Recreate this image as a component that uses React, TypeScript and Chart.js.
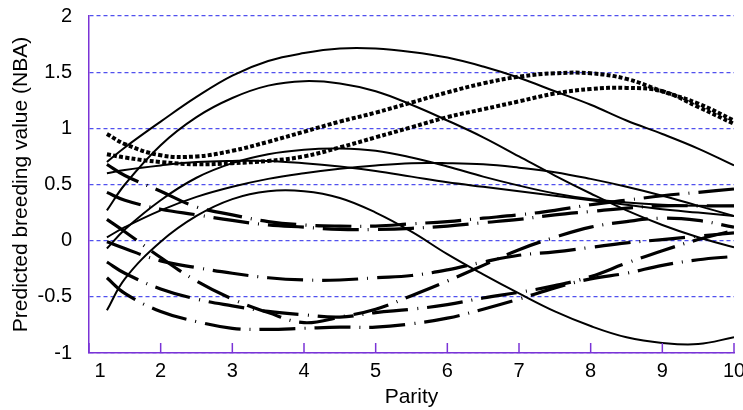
import React, { useEffect, useRef } from "react";
import { Chart, registerables } from "chart.js";

Chart.register(...registerables);

const parity = [1.25, 1.5, 2, 2.5, 3, 3.5, 4, 4.5, 5, 5.5, 6, 6.5, 7, 7.5, 8, 8.5, 9, 9.5, 10];

// solid curves
const solid1 = [0.70, 0.83, 1.06, 1.28, 1.47, 1.60, 1.67, 1.71, 1.71, 1.68, 1.63, 1.55, 1.45, 1.33, 1.21, 1.07, 0.95, 0.82, 0.67];
const solid2 = [0.27, 0.50, 0.85, 1.10, 1.27, 1.38, 1.42, 1.40, 1.33, 1.21, 1.07, 0.92, 0.75, 0.58, 0.42, 0.27, 0.14, 0.03, -0.06];
const solid3 = [0.60, 0.63, 0.67, 0.70, 0.71, 0.71, 0.69, 0.66, 0.62, 0.57, 0.52, 0.48, 0.44, 0.40, 0.36, 0.32, 0.28, 0.25, 0.22];
const solid4 = [-0.07, 0.10, 0.36, 0.56, 0.69, 0.77, 0.81, 0.82, 0.80, 0.74, 0.66, 0.57, 0.49, 0.42, 0.37, 0.34, 0.32, 0.31, 0.31];
const solid5 = [0.03, 0.12, 0.27, 0.39, 0.48, 0.55, 0.60, 0.64, 0.67, 0.69, 0.69, 0.68, 0.65, 0.61, 0.55, 0.48, 0.40, 0.31, 0.22];
const solid6 = [-0.62, -0.34, -0.01, 0.22, 0.37, 0.44, 0.44, 0.38, 0.25, 0.08, -0.12, -0.30, -0.47, -0.63, -0.76, -0.86, -0.91, -0.92, -0.86];

// dotted curves
const dotted1 = [0.95, 0.86, 0.76, 0.75, 0.80, 0.88, 0.97, 1.06, 1.14, 1.23, 1.32, 1.40, 1.46, 1.49, 1.49, 1.44, 1.33, 1.22, 1.07];
const dotted2 = [0.77, 0.74, 0.70, 0.68, 0.69, 0.71, 0.75, 0.83, 0.92, 1.01, 1.10, 1.17, 1.24, 1.31, 1.35, 1.36, 1.33, 1.19, 1.04];

// dash-dot curves
const dashA = [0.68, 0.58, 0.44, 0.30, 0.23, 0.17, 0.14, 0.13, 0.13, 0.15, 0.17, 0.20, 0.23, 0.27, 0.32, 0.36, 0.40, 0.43, 0.46];
const dashB = [0.43, 0.36, 0.28, 0.23, 0.18, 0.14, 0.12, 0.10, 0.10, 0.11, 0.13, 0.16, 0.19, 0.23, 0.26, 0.29, 0.31, 0.31, 0.31];
const dashC = [-0.01, -0.07, -0.18, -0.24, -0.29, -0.33, -0.35, -0.35, -0.33, -0.31, -0.26, -0.19, -0.13, -0.10, -0.06, -0.02, 0.01, 0.04, 0.07];
const dashD = [0.19, 0.08, -0.15, -0.36, -0.52, -0.64, -0.73, -0.68, -0.61, -0.49, -0.36, -0.22, -0.08, 0.03, 0.12, 0.17, 0.20, 0.18, 0.12];
const dashE = [-0.19, -0.29, -0.43, -0.52, -0.58, -0.63, -0.66, -0.68, -0.64, -0.61, -0.57, -0.51, -0.46, -0.40, -0.32, -0.20, -0.09, 0.01, 0.09];
const dashF = [-0.33, -0.47, -0.63, -0.72, -0.78, -0.79, -0.78, -0.77, -0.77, -0.74, -0.69, -0.61, -0.52, -0.42, -0.34, -0.29, -0.22, -0.17, -0.14];

const xTicks = [1, 2, 3, 4, 5, 6, 7, 8, 9, 10];
const yTicks = [-1, -0.5, 0, 0.5, 1, 1.5, 2];

const FONT = "'Liberation Sans', Arial, sans-serif";
const AXIS_COLOR = "#7a33d6";
const GRID_COLOR = "#5050ee";

const toPts = (ys: number[]) => ys.map((y, i) => ({ x: parity[i], y }));

const solidStyle = { borderColor: "#000", borderWidth: 2, borderDash: [] as number[] };
const dottedStyle = { borderColor: "#000", borderWidth: 4, borderDash: [4, 2.2], borderCapStyle: "butt" as const };
const dashStyle = { borderColor: "#000", borderWidth: 3.2, borderDash: [36, 9, 1, 9], borderCapStyle: "butt" as const };

const innerTicks = {
  id: "innerTicks",
  afterDatasetsDraw(chart: any) {
    const { ctx, scales, chartArea } = chart;
    const xs = scales.x;
    ctx.save();
    ctx.strokeStyle = AXIS_COLOR;
    ctx.lineWidth = 1.5;
    for (const t of xTicks) {
      const px = xs.getPixelForValue(t);
      ctx.beginPath();
      ctx.moveTo(px, chartArea.bottom);
      ctx.lineTo(px, chartArea.bottom - 10);
      ctx.stroke();
    }
    ctx.restore();
  },
};

export default function App() {
  const ref = useRef<HTMLCanvasElement | null>(null);
  useEffect(() => {
    if (!ref.current) return;
    const series = [
      { d: solid1, s: solidStyle },
      { d: solid2, s: solidStyle },
      { d: solid3, s: solidStyle },
      { d: solid4, s: solidStyle },
      { d: solid5, s: solidStyle },
      { d: solid6, s: solidStyle },
      { d: dotted1, s: dottedStyle },
      { d: dotted2, s: dottedStyle },
      { d: dashA, s: dashStyle },
      { d: dashB, s: dashStyle },
      { d: dashC, s: dashStyle },
      { d: dashD, s: dashStyle },
      { d: dashE, s: dashStyle },
      { d: dashF, s: dashStyle },
    ];
    const chart = new Chart(ref.current, {
      type: "line",
      data: {
        datasets: series.map((sr, i) => ({
          label: "s" + i,
          data: toPts(sr.d),
          ...sr.s,
          pointRadius: 0,
          fill: false,
          tension: 0.4,
        })),
      },
      options: {
        animation: false,
        responsive: true,
        maintainAspectRatio: false,
        layout: { padding: { top: 16, right: 9, left: 0, bottom: 0 } },
        plugins: { legend: { display: false }, tooltip: { enabled: false } },
        scales: {
          x: {
            type: "linear",
            min: 1,
            max: 10,
            afterBuildTicks: (s: any) => {
              s.ticks = xTicks.map((v) => ({ value: v }));
            },
            afterFit: (s: any) => {
              s.height = 57;
              s.paddingLeft = 0;
              s.paddingRight = 0;
            },
            grid: { display: false, drawTicks: false },
            border: { display: true, color: AXIS_COLOR, width: 1.5 },
            ticks: {
              color: "#000",
              font: { family: FONT, size: 20 },
              padding: 6,
              maxRotation: 0,
              autoSkip: false,
              callback: (v: any) => (v === 1 ? "    1" : String(v)),
            },
            title: {
              display: true,
              text: "Parity",
              color: "#000",
              font: { family: FONT, size: 21 },
              padding: { top: 0, bottom: 0 },
            },
          },
          y: {
            type: "linear",
            min: -1,
            max: 2,
            afterBuildTicks: (s: any) => {
              s.ticks = yTicks.map((v) => ({ value: v }));
            },
            afterFit: (s: any) => {
              s.width = 89;
              s.paddingTop = 0;
              s.paddingBottom = 0;
            },
            grid: {
              color: GRID_COLOR,
              lineWidth: 1.3,
              drawTicks: false,
            },
            border: { display: true, color: AXIS_COLOR, width: 1.5, dash: [4, 3] },
            ticks: {
              color: "#000",
              font: { family: FONT, size: 20 },
              padding: 17,
              callback: (v: any) => String(v),
            },
            title: {
              display: true,
              text: "Predicted breeding value (NBA)",
              color: "#000",
              font: { family: FONT, size: 21 },
              padding: { top: 9, bottom: 0 },
            },
          },
        },
      },
      plugins: [innerTicks],
    });
    return () => chart.destroy();
  }, []);
  return (
    <div style={{ position: "absolute", left: 0, top: 0, width: 743, height: 410, background: "#fff" }}>
      <canvas ref={ref} />
    </div>
  );
}
